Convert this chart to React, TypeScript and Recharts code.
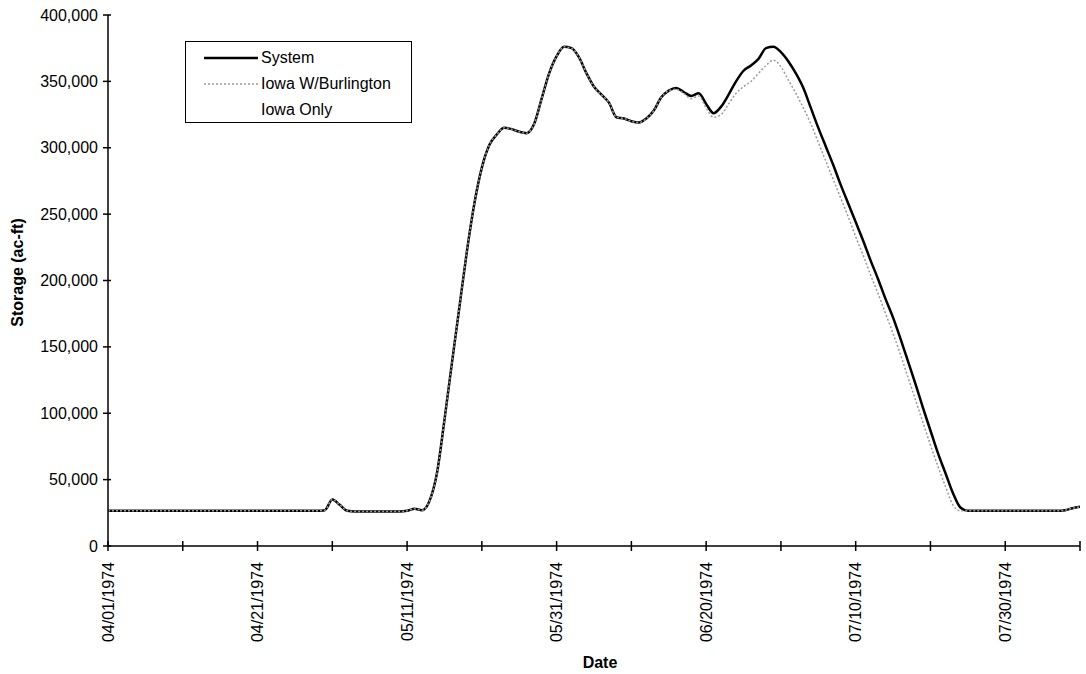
import React from 'react';
import { LineChart, Line, XAxis, YAxis } from 'recharts';

// Day offsets from 04/01/1974
const days: number[] = Array.from({ length: 131 }, (_, i) => i);

// System storage (ac-ft), one value per day, 04/01/1974 .. 08/09/1974
const systemStorage: number[] = [
  26500, 26500, 26500, 26500, 26500, 26500, 26500, 26500, 26500, 26500,
  26500, 26500, 26500, 26500, 26500, 26500, 26500, 26500, 26500, 26500,
  26500, 26500, 26500, 26500, 26500, 26500, 26500, 26500, 26500, 27000,
  35000, 31000, 26500, 26000, 26000, 26000, 26000, 26000, 26000, 26000,
  26500, 28000, 27000, 34000, 55000, 95000, 138000, 180000, 222000, 258000,
  285000, 302000, 310000, 315000, 314000, 312000, 311000, 318000, 337000, 356000,
  369000, 376000, 375000, 368000, 356000, 346000, 340000, 334000, 323000, 322000,
  320000, 319000, 322000, 328000, 338000, 343000, 345000, 342000, 339000, 341000,
  333000, 326000, 331000, 340000, 350000, 358000, 362000, 367000, 375000, 376000,
  372000, 365000, 356000, 345000, 330000, 315000, 301000, 287000, 272000, 258000,
  244000, 230000, 215000, 201000, 186000, 172000, 156000, 139000, 122000, 104000,
  87000, 70000, 55000, 40000, 29000, 26500, 26500, 26500, 26500, 26500,
  26500, 26500, 26500, 26500, 26500, 26500, 26500, 26500, 27000, 28500,
  29500,
];

// Iowa W/Burlington storage (ac-ft)
const iowaBurlington: number[] = [
  26500, 26500, 26500, 26500, 26500, 26500, 26500, 26500, 26500, 26500,
  26500, 26500, 26500, 26500, 26500, 26500, 26500, 26500, 26500, 26500,
  26500, 26500, 26500, 26500, 26500, 26500, 26500, 26500, 26500, 27000,
  35000, 31000, 26500, 26000, 26000, 26000, 26000, 26000, 26000, 26000,
  26500, 28000, 27000, 34000, 55000, 95000, 138000, 180000, 222000, 258000,
  285000, 302000, 310000, 315000, 314000, 312000, 311000, 318000, 337000, 356000,
  369000, 376000, 375000, 368000, 356000, 346000, 340000, 334000, 323000, 322000,
  320000, 319000, 322000, 328000, 338000, 343000, 344000, 341000, 337000, 339000,
  330000, 323000, 325000, 333000, 341000, 346000, 350000, 356000, 362000, 366000,
  361000, 351000, 341000, 330000, 318000, 304000, 290000, 276000, 262000, 248000,
  233000, 219000, 204000, 190000, 175000, 160000, 144000, 127000, 110000, 93000,
  76000, 60000, 45000, 31000, 26500, 26500, 26500, 26500, 26500, 26500,
  26500, 26500, 26500, 26500, 26500, 26500, 26500, 26500, 27000, 28500,
  29500,
];

// Iowa Only: lies on the zero line
const iowaOnlyDays: number[] = [0, 130];
const iowaOnlyStorage: number[] = [0, 0];

const xTickDays: number[] = [0, 10, 20, 30, 40, 50, 60, 70, 80, 90, 100, 110, 120, 130];
const xTickLabels: Record<number, string> = {
  0: '04/01/1974',
  20: '04/21/1974',
  40: '05/11/1974',
  60: '05/31/1974',
  80: '06/20/1974',
  100: '07/10/1974',
  120: '07/30/1974',
};
const yTicks: number[] = [0, 50000, 100000, 150000, 200000, 250000, 300000, 350000, 400000];

const data = days.map((d, i) => ({ day: d, system: systemStorage[i], wb: iowaBurlington[i] }));
const iowaOnlyData = iowaOnlyDays.map((d, i) => ({ day: d, only: iowaOnlyStorage[i] }));

const FONT = '"Liberation Sans", Arial, Helvetica, sans-serif';

const XTick = (props: any) => {
  const { x, y, payload } = props;
  const label = xTickLabels[payload.value];
  return (
    <g>
      <line x1={x} x2={x} y1={y - 5} y2={y + 5} stroke="#000" strokeWidth={1.5} />
      {label && (
        <text
          x={x}
          y={y + 16}
          transform={`rotate(-90 ${x} ${y + 16})`}
          textAnchor="end"
          dominantBaseline="central"
          fontSize={16}
          fontFamily={FONT}
          fill="#000"
        >
          {label}
        </text>
      )}
    </g>
  );
};

const YTick = (props: any) => {
  const { x, y, payload } = props;
  return (
    <g>
      <line x1={x - 5} x2={x + 3} y1={y} y2={y} stroke="#000" strokeWidth={1.5} />
      <text
        x={x - 10}
        y={y}
        textAnchor="end"
        dominantBaseline="central"
        fontSize={16}
        fontFamily={FONT}
        fill="#000"
      >
        {payload.value.toLocaleString('en-US')}
      </text>
    </g>
  );
};

const legendRows = [
  { name: 'System', stroke: '#000', width: 2.5, dash: undefined as string | undefined },
  { name: 'Iowa W/Burlington', stroke: '#999', width: 1.5, dash: '2 2' },
  { name: 'Iowa Only', stroke: 'transparent', width: 1, dash: undefined },
];

const LegendBox = () => (
  <div
    style={{
      position: 'absolute',
      left: 185,
      top: 41,
      width: 227,
      height: 82,
      border: '1.5px solid #000',
      boxSizing: 'border-box',
      background: '#fff',
      fontFamily: FONT,
      fontSize: 16,
    }}
  >
    {legendRows.map((r, i) => (
      <div key={r.name} style={{ position: 'absolute', left: 0, top: 6 + i * 26, height: 20, width: '100%' }}>
        <svg width={60} height={20} style={{ position: 'absolute', left: 18, top: 0 }}>
          <line x1={0} x2={54} y1={10} y2={10} stroke={r.stroke} strokeWidth={r.width} strokeDasharray={r.dash} />
        </svg>
        <span style={{ position: 'absolute', left: 75, top: 0, lineHeight: '20px', whiteSpace: 'nowrap', color: '#000' }}>
          {r.name}
        </span>
      </div>
    ))}
  </div>
);

export default function App() {
  return (
    <div style={{ position: 'absolute', left: 0, top: 0, width: 1086, height: 674, background: '#fff' }}>
      <LineChart
        width={1086}
        height={674}
        data={data}
        margin={{ top: 15, right: 6, bottom: 0, left: 8 }}
        style={{ fontFamily: FONT }}
      >
        <XAxis
          dataKey="day"
          type="number"
          domain={[0, 130]}
          ticks={xTickDays}
          interval={0}
          allowDataOverflow
          height={128}
          tickSize={0}
          tickMargin={0}
          tickLine={false}
          tick={<XTick />}
          axisLine={{ stroke: '#000', strokeWidth: 1.5 }}
          label={{ value: 'Date', position: 'insideBottom', offset: 6, dx: 6, fontSize: 16, fontWeight: 'bold', fill: '#000', fontFamily: FONT }}
        />
        <YAxis
          type="number"
          domain={[0, 400000]}
          ticks={yTicks}
          interval={0}
          width={100}
          tickSize={0}
          tickMargin={0}
          tickLine={false}
          tick={<YTick />}
          axisLine={{ stroke: '#000', strokeWidth: 1.5 }}
          label={{ value: 'Storage (ac-ft)', angle: -90, position: 'insideLeft', offset: 9, dy: -8, fontSize: 16, fontWeight: 'bold', fill: '#000', fontFamily: FONT, textAnchor: 'middle' }}
        />
        <Line
          data={iowaOnlyData}
          dataKey="only"
          name="Iowa Only"
          stroke="#ddd"
          strokeWidth={1}
          strokeDasharray="1 3"
          dot={false}
          isAnimationActive={false}
        />
        <Line
          dataKey="system"
          name="System"
          type="monotone"
          stroke="#000"
          strokeWidth={2.5}
          dot={false}
          isAnimationActive={false}
        />
        <Line
          dataKey="wb"
          name="Iowa W/Burlington"
          type="monotone"
          stroke="#9a9a9a"
          strokeWidth={1.5}
          strokeDasharray="2 2"
          dot={false}
          isAnimationActive={false}
        />
      </LineChart>
      <LegendBox />
    </div>
  );
}
